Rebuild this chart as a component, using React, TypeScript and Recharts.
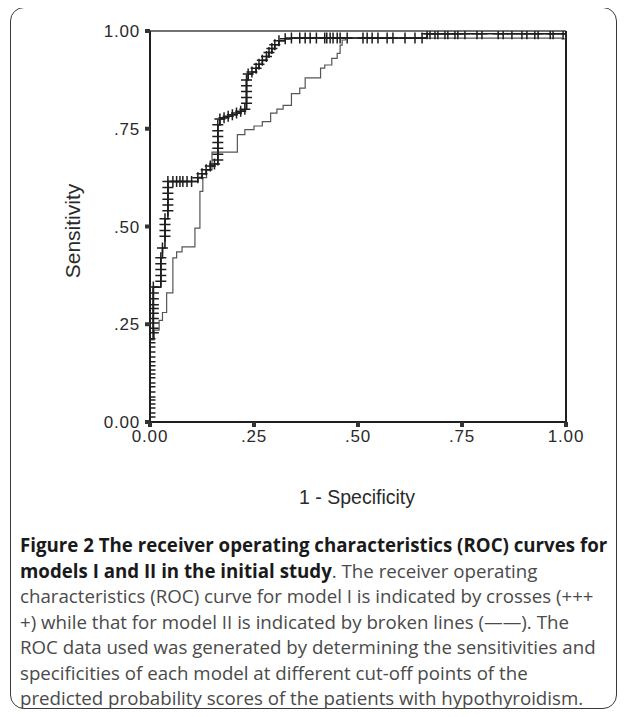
import { Label, Line, LineChart, ReferenceLine, XAxis, YAxis } from "recharts";

// ROC points, x = 1 - specificity, y = sensitivity
const modelIx = [
  0, 0, 0, 0, 0, 0, 0, 0, 0, 0, 0, 0, 0, 0, 0, 0, 0, 0, 0, 0,
  0.008, 0.008, 0.008, 0.008, 0.008, 0.008, 0.008, 0.008, 0.008, 0.008,
  0.026, 0.026, 0.026, 0.026, 0.026, 0.03, 0.036, 0.036, 0.036, 0.036,
  0.043, 0.043, 0.043, 0.043, 0.043, 0.043,
  0.055, 0.064, 0.072, 0.079, 0.089, 0.1,
  0.115, 0.125, 0.135, 0.145, 0.155, 0.163, 0.163, 0.163, 0.163, 0.163, 0.163, 0.163, 0.168,
  0.178, 0.188, 0.198, 0.208, 0.218, 0.228,
  0.232, 0.232, 0.232, 0.232, 0.232, 0.236,
  0.245, 0.255, 0.262, 0.27, 0.28, 0.286, 0.293, 0.3, 0.31, 0.325, 0.34,
  0.36, 0.373, 0.385, 0.4, 0.42, 0.425, 0.433, 0.44, 0.45, 0.457, 0.474, 0.512, 0.522, 0.534,
  0.548, 0.57, 0.584, 0.613, 0.637, 0.654,
  0.666, 0.673, 0.685, 0.692, 0.709, 0.716, 0.733, 0.74, 0.757, 0.786, 0.798, 0.837, 0.849,
  0.87, 0.894, 0.906, 0.925, 0.933, 0.962, 0.969, 0.993, 1.0,
];
const modelIy = [
  0, 0.013, 0.023, 0.036, 0.046, 0.056, 0.064, 0.077, 0.09, 0.1, 0.113, 0.123, 0.133, 0.144,
  0.154, 0.166, 0.179, 0.192, 0.203, 0.213,
  0.228, 0.24, 0.253, 0.265, 0.278, 0.29, 0.3, 0.315, 0.33, 0.345,
  0.36, 0.375, 0.39, 0.405, 0.42, 0.445, 0.475, 0.49, 0.505, 0.52,
  0.54, 0.555, 0.57, 0.585, 0.6, 0.615,
  0.615, 0.615, 0.615, 0.615, 0.615, 0.615,
  0.625, 0.635, 0.645, 0.655, 0.66, 0.67, 0.685, 0.7, 0.715, 0.73, 0.745, 0.76, 0.775,
  0.778, 0.782, 0.786, 0.79, 0.795, 0.8,
  0.815, 0.83, 0.845, 0.86, 0.875, 0.89,
  0.895, 0.905, 0.915, 0.925, 0.935, 0.945, 0.955, 0.965, 0.975, 0.98, 0.982,
  0.982, 0.982, 0.982, 0.982, 0.982, 0.982, 0.982, 0.982, 0.982, 0.982, 0.982, 0.982, 0.982, 0.982,
  0.982, 0.982, 0.982, 0.982, 0.982, 0.982,
  0.993, 0.993, 0.993, 0.993, 0.993, 0.993, 0.993, 0.993, 0.993, 0.993, 0.993, 0.993, 0.993,
  0.993, 0.993, 0.993, 0.993, 0.993, 0.993, 0.993, 0.993, 0.993,
];

const modelIIx = [
  0, 0, 0.01, 0.022, 0.03, 0.04, 0.055, 0.055, 0.064, 0.077, 0.108, 0.12, 0.127, 0.136, 0.149,
  0.21, 0.228, 0.25, 0.27, 0.29, 0.305, 0.32, 0.34, 0.36, 0.373, 0.41, 0.42, 0.437, 0.45,
  0.457, 0.462, 0.47, 0.99, 1.0,
];
const modelIIy = [
  0, 0.21, 0.235, 0.26, 0.28, 0.33, 0.38, 0.42, 0.435, 0.448, 0.496, 0.59, 0.625, 0.645, 0.69,
  0.735, 0.748, 0.757, 0.768, 0.79, 0.8, 0.81, 0.84, 0.854, 0.88, 0.905, 0.913, 0.93, 0.943,
  0.964, 0.977, 0.982, 0.98, 0.993,
];

const xTicks = [0, 0.25, 0.5, 0.75, 1];
const xTickLabels = ["0.00", ".25", ".50", ".75", "1.00"];
const yTicks = [0, 0.25, 0.5, 0.75, 1];
const yTickLabels = ["0.00", ".25", ".50", ".75", "1.00"];

const captionLines = [
  { bold: "Figure 2 The receiver operating characteristics (ROC) curves for", text: "" },
  { bold: "models I and II in the initial study", text: ". The receiver operating" },
  { bold: "", text: "characteristics (ROC) curve for model I is indicated by crosses (+++" },
  { bold: "", text: "+) while that for model II is indicated by broken lines (——). The" },
  { bold: "", text: "ROC data used was generated by determining the sensitivities and" },
  { bold: "", text: "specificities of each model at different cut-off points of the" },
  { bold: "", text: "predicted probability scores of the patients with hypothyroidism." },
];

const modelI = modelIx.map((x, i) => ({ x, y: modelIy[i] }));
const modelII = modelIIx.map((x, i) => ({ x, y: modelIIy[i] }));

const axisFont = "'Liberation Sans', Arial, sans-serif";

function CrossDot(props: any) {
  const { cx, cy, index } = props;
  if (cx == null || cy == null) return <g key={index} />;
  return (
    <path
      key={index}
      d={`M${cx - 5.5},${cy}H${cx + 5.5}M${cx},${cy - 5.5}V${cy + 5.5}`}
      stroke="#1e1e1e"
      strokeWidth={1.5}
      fill="none"
    />
  );
}

function fmt(labels: string[], ticks: number[]) {
  return (v: number) => labels[ticks.indexOf(v)] ?? String(v);
}

export default function App() {
  return (
    <div style={{ position: "relative", width: 625, height: 717, margin: -8, background: "#fff" }}>
      <div
        style={{
          position: "absolute",
          left: 10,
          top: 7,
          width: 605,
          height: 700,
          border: "1.5px solid #3a3a3a",
          borderRadius: 14,
        }}
      />
      <div style={{ position: "absolute", left: 0, top: 0 }}>
        <LineChart
          width={625}
          height={520}
          margin={{ top: 31, right: 59, left: 90, bottom: 68 }}
        >
          <XAxis
            type="number"
            dataKey="x"
            domain={[0, 1]}
            ticks={xTicks}
            tickFormatter={fmt(xTickLabels, xTicks)}
            height={30}
            axisLine={{ stroke: "#1e1e1e", strokeWidth: 2 }}
            tickLine={{ stroke: "#333", strokeWidth: 4 }}
            tickSize={5}
            tickMargin={3}
            tick={{ fill: "#2a2a2a", fontSize: 17, fontFamily: axisFont, letterSpacing: 0.8 }}
            allowDataOverflow
          >
            <Label
              content={() => (
                <text
                  x={357}
                  y={504}
                  textAnchor="middle"
                  fontSize={19.5}
                  fontFamily={axisFont}
                  fill="#2a2a2a"
                >
                  1 - Specificity
                </text>
              )}
            />
          </XAxis>
          <YAxis
            type="number"
            domain={[0, 1]}
            ticks={yTicks}
            tickFormatter={fmt(yTickLabels, yTicks)}
            width={60}
            axisLine={{ stroke: "#1e1e1e", strokeWidth: 2 }}
            tickLine={{ stroke: "#333", strokeWidth: 4 }}
            tickSize={5}
            tickMargin={5}
            tick={{ fill: "#2a2a2a", fontSize: 17, fontFamily: axisFont, letterSpacing: 0.8 }}
            allowDataOverflow
          >
            <Label
              content={() => (
                <text
                  x={80}
                  y={231}
                  textAnchor="middle"
                  transform="rotate(-90 80 231)"
                  fontSize={21}
                  fontFamily={axisFont}
                  fill="#2a2a2a"
                >
                  Sensitivity
                </text>
              )}
            />
          </YAxis>
          <ReferenceLine y={1} stroke="#444" strokeWidth={1.5} ifOverflow="visible" />
          <ReferenceLine x={1} stroke="#1e1e1e" strokeWidth={2} ifOverflow="visible" />
          <Line
            data={modelII}
            dataKey="y"
            type="stepAfter"
            stroke="#555"
            strokeWidth={1.2}
            dot={false}
            isAnimationActive={false}
          />
          <Line
            data={modelI}
            dataKey="y"
            type="stepAfter"
            stroke="#1e1e1e"
            strokeWidth={1.6}
            dot={CrossDot}
            isAnimationActive={false}
          />
        </LineChart>
      </div>
      <div
        style={{
          position: "absolute",
          left: 20,
          top: 532,
          fontFamily: "'Open Sans', sans-serif",
          fontSize: 18.7,
          lineHeight: "25.5px",
          color: "#4a4a4a",
          whiteSpace: "nowrap",
        }}
      >
        {captionLines.map((l, i) => (
          <div key={i}>
            {l.bold && <b style={{ color: "#1a1a1a" }}>{l.bold}</b>}
            {l.text}
          </div>
        ))}
      </div>
    </div>
  );
}
